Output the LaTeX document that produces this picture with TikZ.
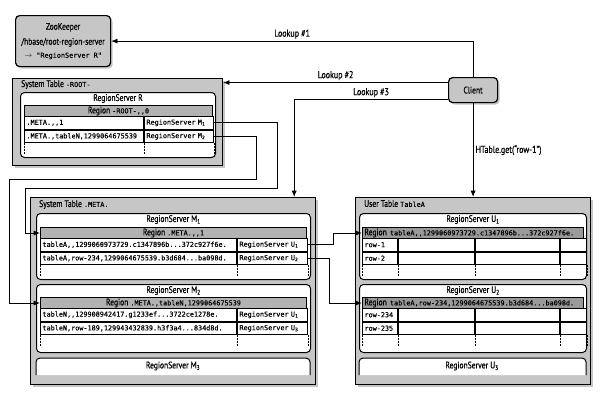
\documentclass[tikz,border=0pt]{standalone}
\usepackage{fontspec}
\setmainfont{PT Sans}[FakeStretch=0.8,FakeBold=0.6]
\setmonofont{DejaVu Sans Mono}[FakeBold=0.4]
\usetikzlibrary{arrows.meta,positioning,shadows}
\definecolor{tblgray}{HTML}{C6C6C6}
\definecolor{hdrgray}{HTML}{B2B2B2}
\definecolor{hdrdark}{HTML}{9A9A9A}
\definecolor{shade}{HTML}{8C8C8C}
\newcommand{\rowfont}{\ttfamily\fontsize{6.8}{8}\selectfont}

\begin{document}
\begin{tikzpicture}[x=1pt,y=-1pt,
      font=\fontsize{9.5}{11}\selectfont,
      tbl/.style={draw,line width=1.2pt,fill=tblgray,anchor=north west,
                  drop shadow={shadow xshift=2pt,shadow yshift=-2pt,fill=shade}},
      box/.style={draw,line width=1.2pt,fill=tblgray,rounded corners=4pt,anchor=north west,align=center,
                  drop shadow={shadow xshift=2pt,shadow yshift=-2pt,fill=shade}},
      srv/.style={draw,line width=1pt,fill=white,rounded corners=4pt,anchor=north west},
      ttl/.style={inner sep=1pt},
      hdr/.style={draw,line width=1pt,fill=hdrgray,anchor=north west,minimum height=11pt,inner sep=0pt},
      cell/.style={draw,line width=1pt,fill=white,anchor=north west,minimum height=12.5pt,inner xsep=2pt,inner ysep=0pt,
                   align=left,font=\rowfont},
      lab/.style={font=\fontsize{10}{11}\selectfont,inner sep=2pt},
      arr/.style={-{Latex[length=2.2mm,width=1.8mm]},line width=0.9pt},
      dots/.style={line width=1pt,dash pattern=on 1.5pt off 1.5pt}]
    \useasboundingbox (0,0) rectangle (600,400);
    % zookeeper and client
    \node[box,minimum width=95pt,minimum height=51pt] (zk) at (15,15)
      {ZooKeeper\\[4pt]/hbase/root-region-server\\[2pt]{\rowfont$\rightarrow$ "RegionServer R"}};
    \node[box,minimum width=49pt,minimum height=25pt] (client) at (448,77) {Client};
    % -ROOT- table
    \node[tbl,minimum width=210pt,minimum height=87pt] (rootT) at (12,78) {};
    \node[ttl,anchor=north west] (rootL) at (20,79) {System Table {\rowfont -ROOT-}};
    \node[srv,minimum width=195pt,minimum height=65pt] (srvR) at (20,92) {};
    \node[ttl,below=1pt of srvR.north] {RegionServer R};
    \node[hdr,minimum width=188pt] (rootH) at (24,105) {Region {\rowfont -ROOT-,,0}};
    \node[cell,text width=115pt] (rootK1) at (24,116) {.META.,,1};
    \node[cell,text width=65pt] (rootM1) at (rootK1.north east) {RegionServer M\textsubscript{1}};
    \node[cell,text width=115pt] (rootK2) at (rootK1.south west) {.META.,tableN,1299064675539};
    \node[cell,text width=65pt] (rootM2) at (rootK2.north east) {RegionServer M\textsubscript{2}};
    \foreach \n in {rootK2.south west,rootK2.south east,rootM2.south east}
      \draw[dots] (\n) -- ++(0,12);
    % .META. table
    \node[tbl,minimum width=285pt,minimum height=187pt] (metaT) at (30,197) {};
    \node[ttl,anchor=north west] (metaL) at (38,199) {System Table {\rowfont .META.}};
    \node[srv,minimum width=274pt,minimum height=66pt] (srvM1) at (36,213) {};
    \node[ttl,below=1pt of srvM1.north] {RegionServer M\textsubscript{1}};
    \node[hdr,minimum width=266pt] (metaH1) at (40,227) {Region {\rowfont .META.,,1}};
    \node[cell,text width=192pt] (metaK1) at (40,238) {tableA,,1299060973729.c1347896b...372c927f6e.};
    \node[cell,text width=66pt] (metaU1) at (metaK1.north east) {RegionServer U\textsubscript{1}};
    \node[cell,text width=192pt] (metaK2) at (metaK1.south west) {tableA,row-234,1299064675539.b3d684...ba098d.};
    \node[cell,text width=66pt] (metaU2) at (metaK2.north east) {RegionServer U\textsubscript{2}};
    \foreach \n in {metaK2.south west,metaK2.south east,metaU2.south east}
      \draw[dots] (\n) -- ++(0,12);
    \node[srv,minimum width=274pt,minimum height=68pt] (srvM2) at (36,284) {};
    \node[ttl,below=1pt of srvM2.north] {RegionServer M\textsubscript{2}};
    \node[hdr,minimum width=266pt] (metaH2) at (40,297) {Region {\rowfont .META.,tableN,1299064675539}};
    \node[cell,text width=192pt] (metaK3) at (40,308) {tableN,,129908942417.g1233ef...3722ce1278e.};
    \node[cell,text width=66pt] (metaU3) at (metaK3.north east) {RegionServer U\textsubscript{1}};
    \node[cell,text width=192pt] (metaK4) at (metaK3.south west) {tableN,row-189,129943432839.h3f3a4...834d8d.};
    \node[cell,text width=66pt] (metaU4) at (metaK4.north east) {RegionServer U\textsubscript{3}};
    \foreach \n in {metaK4.south west,metaK4.south east,metaU4.south east}
      \draw[dots] (\n) -- ++(0,12);
    \draw[line width=1pt,fill=white,rounded corners=4pt] (36,375) |- (310,358) -- (310,375);
    \node[ttl] (srvM3) at (173,366) {RegionServer M\textsubscript{3}};
    % user table
    \node[tbl,minimum width=235pt,minimum height=187pt] (userT) at (355,197) {};
    \node[ttl,anchor=north west] (userL) at (363,199) {User Table {\rowfont TableA}};
    \node[srv,minimum width=227pt,minimum height=66pt] (srvU1) at (359,213) {};
    \node[ttl,below=1pt of srvU1.north] {RegionServer U\textsubscript{1}};
    \node[hdr,fill=hdrdark,text width=217pt,inner xsep=2pt,align=left] (userH1) at (362,227)
      {Region {\rowfont tableA,,1299060973729.c1347896b...372c927f6e.}};
    \node[cell,text width=31pt] (u1a1) at (362,238) {row-1};
    \node[cell,text width=72pt] (u1b1) at (u1a1.north east) {};
    \node[cell,text width=80pt] (u1c1) at (u1b1.north east) {};
    \node[cell,text width=22pt] (u1d1) at (u1c1.north east) {};
    \node[cell,text width=31pt] (u1a2) at (u1a1.south west) {row-2};
    \node[cell,text width=72pt] (u1b2) at (u1a2.north east) {};
    \node[cell,text width=80pt] (u1c2) at (u1b2.north east) {};
    \node[cell,text width=22pt] (u1d2) at (u1c2.north east) {};
    \foreach \n in {u1a2.south west,u1a2.south east,u1b2.south east,u1c2.south east,u1d2.south east}
      \draw[dots] (\n) -- ++(0,12);
    \node[srv,minimum width=227pt,minimum height=68pt] (srvU2) at (359,284) {};
    \node[ttl,below=1pt of srvU2.north] {RegionServer U\textsubscript{2}};
    \node[hdr,fill=hdrdark,text width=217pt,inner xsep=2pt,align=left] (userH2) at (362,297)
      {Region {\rowfont tableA,row-234,1299064675539.b3d684...ba098d.}};
    \node[cell,text width=31pt] (u2a1) at (362,308) {row-234};
    \node[cell,text width=72pt] (u2b1) at (u2a1.north east) {};
    \node[cell,text width=80pt] (u2c1) at (u2b1.north east) {};
    \node[cell,text width=22pt] (u2d1) at (u2c1.north east) {};
    \node[cell,text width=31pt] (u2a2) at (u2a1.south west) {row-235};
    \node[cell,text width=72pt] (u2b2) at (u2a2.north east) {};
    \node[cell,text width=80pt] (u2c2) at (u2b2.north east) {};
    \node[cell,text width=22pt] (u2d2) at (u2c2.north east) {};
    \foreach \n in {u2a2.south west,u2a2.south east,u2b2.south east,u2c2.south east,u2d2.south east}
      \draw[dots] (\n) -- ++(0,12);
    \draw[line width=1pt,fill=white,rounded corners=4pt] (359,375) |- (586,358) -- (586,375);
    \node[ttl] (srvU3) at (472,366) {RegionServer U\textsubscript{3}};
    % lookups
    \draw[arr] (client.north) |- (zk.east) node[lab,pos=0.75,above] {Lookup \#1};
    \path ([yshift=7.5pt]client.west) coordinate (l2);
    \draw[arr] (l2) -- (l2 -| rootT.east) node[lab,midway,above] {Lookup \#2};
    \draw[arr] ([yshift=-9.5pt]client.west) -| ([xshift=-22pt]metaT.north east)
      node[lab,pos=0.25,above] {Lookup \#3};
    \draw[arr] (client.south) -- (client.south |- userT.north) node[lab,midway,right] {HTable.get(``row-1'')};
    % region pointers
    \draw[arr] (rootM1.east) -- ++(63,0) -- ++(0,66) -| ([xshift=-15pt]metaH1.west) -- (metaH1.west);
    \draw[arr] (rootM2.east) -- ++(42,0) -- ++(0,43) -| ([xshift=-31pt]metaH2.west) -- (metaH2.west);
    \draw[arr] (metaU1.east) -- ++(25,0) |- (userH1.west);
    \draw[arr] (metaU2.east) -- ++(21,0) |- (userH2.west);
  \end{tikzpicture}
\end{document}
